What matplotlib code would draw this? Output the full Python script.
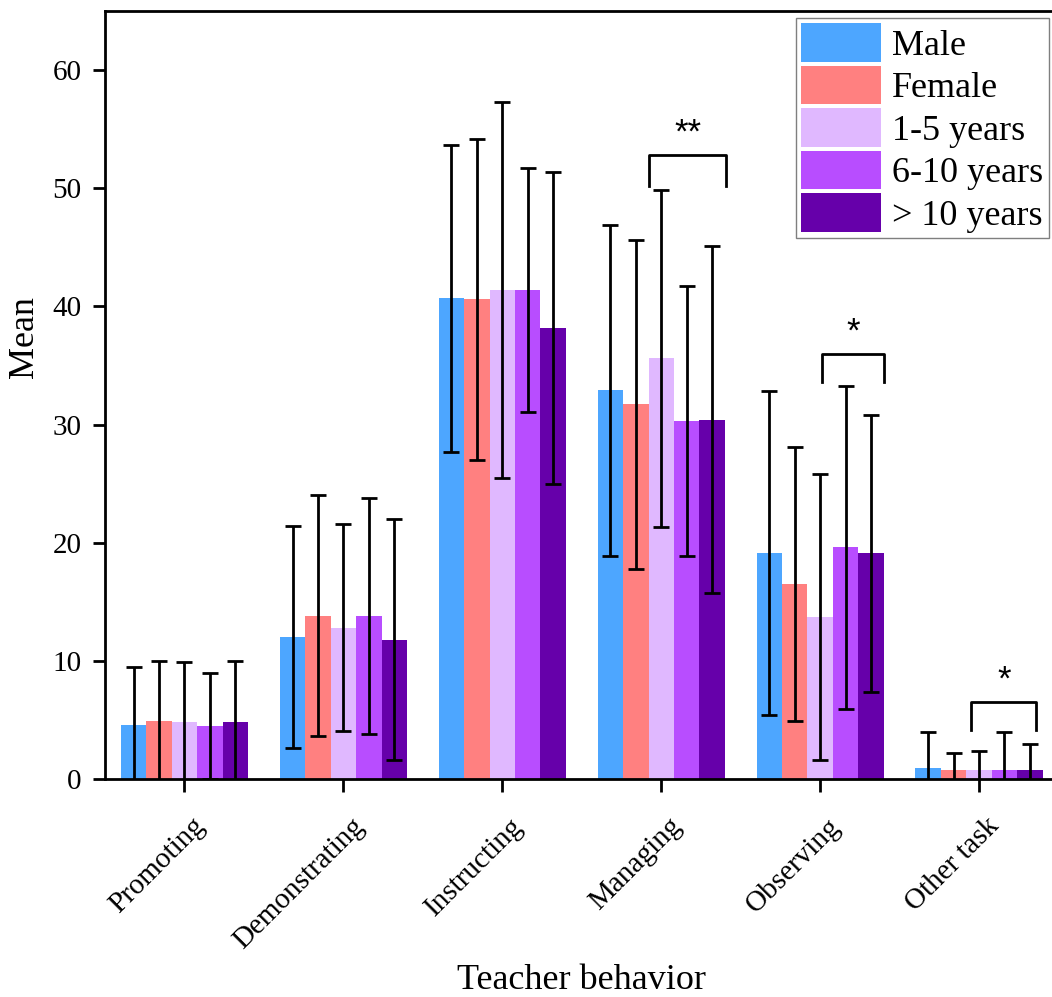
import numpy as np
import matplotlib.pyplot as plt
from matplotlib.transforms import ScaledTranslation

plt.rcParams['font.family'] = ['Liberation Serif', 'DejaVu Serif']

categories = ['Promoting', 'Demonstrating', 'Instructing', 'Managing', 'Observing', 'Other task']
groups = ['Male', 'Female', '1-5 years', '6-10 years', '> 10 years']
colors = ['#4da6ff', '#ff8080', '#e0b8ff', '#b84dff', '#6600aa']

male_mean = [4.6, 12.0, 40.7, 32.9, 19.1, 0.9]
male_sd = [4.9, 9.4, 13.0, 14.0, 13.7, 3.1]
female_mean = [4.9, 13.8, 40.6, 31.7, 16.5, 0.8]
female_sd = [5.05, 10.2, 13.6, 13.95, 11.6, 1.4]
y1_5_mean = [4.85, 12.8, 41.4, 35.6, 13.7, 0.8]
y1_5_sd = [5.05, 8.75, 15.9, 14.25, 12.1, 1.6]
y6_10_mean = [4.5, 13.8, 41.4, 30.3, 19.6, 0.8]
y6_10_sd = [4.5, 10.0, 10.3, 11.4, 13.7, 3.2]
y10_mean = [4.8, 11.8, 38.2, 30.4, 19.1, 0.8]
y10_sd = [5.15, 10.2, 13.2, 14.7, 11.7, 2.2]

means = [male_mean, female_mean, y1_5_mean, y6_10_mean, y10_mean]
sds = [male_sd, female_sd, y1_5_sd, y6_10_sd, y10_sd]

# significance brackets: x start, x end, top, leg bottom, mark
sig_x0 = [2.92, 4.01, 4.95]
sig_x1 = [3.41, 4.40, 5.36]
sig_top = [52.8, 36.0, 6.55]
sig_low = [50.2, 33.6, 4.15]
sig_text = ['**', '*', '*']

fig = plt.figure(figsize=(10.52, 9.97), dpi=100)
ax = fig.add_axes([0.0998, 0.2187, 0.9064, 0.7702])

x = np.arange(len(categories))
w = 0.16
for i in range(len(groups)):
    pos = x + (i - 2) * w
    ax.bar(pos, means[i], w, color=colors[i], label=groups[i], zorder=2)
    ax.errorbar(pos, means[i], yerr=sds[i], fmt='none', ecolor='black',
                elinewidth=2.0, capsize=5.5, capthick=2.0, zorder=3)

for x0, x1, yt, yb, s in zip(sig_x0, sig_x1, sig_top, sig_low, sig_text):
    ax.plot([x0, x0, x1, x1], [yb, yt, yt, yb], color='black', lw=2.0, zorder=4)
    ax.text((x0 + x1) / 2, yt + 1.05, s, ha='center', va='baseline',
            fontsize=25, family='Liberation Sans', zorder=4)

ax.set_xlim(-0.5, 5.5)
ax.set_ylim(0, 65)
ax.set_yticks(range(0, 61, 10))
ax.set_xticks(x)
ax.set_xticklabels(categories, rotation=45, ha='right', va='center',
                   rotation_mode='anchor')

for sp in ax.spines.values():
    sp.set_linewidth(2.0)
ax.tick_params(axis='both', direction='out', width=2.0, length=9, labelsize=21)
ax.tick_params(axis='y', pad=8)
ax.tick_params(axis='x', pad=0)

offset = ScaledTranslation(0.165, -0.31, fig.dpi_scale_trans)
for lab in ax.get_xticklabels():
    lab.set_transform(lab.get_transform() + offset)

ax.set_xlabel('Teacher behavior', fontsize=26)
ax.xaxis.set_label_coords(0.5, -0.263)
ax.xaxis.label.set_va('center')
ax.set_ylabel('Mean', fontsize=26)
ax.yaxis.set_label_coords(-0.084, 0.576)
ax.yaxis.label.set_va('center')

leg = ax.legend(loc='upper right', bbox_to_anchor=(1049 / 1052, 1 - 18 / 997),
                bbox_transform=fig.transFigure, borderaxespad=0, fontsize=26,
                handlelength=2.2, handleheight=1.25, labelspacing=0.09,
                borderpad=0.15, handletextpad=0.33, fancybox=False,
                edgecolor='#7f7f7f', framealpha=1)
leg.get_frame().set_linewidth(1.0)

fig.savefig('out.png', dpi=100)
